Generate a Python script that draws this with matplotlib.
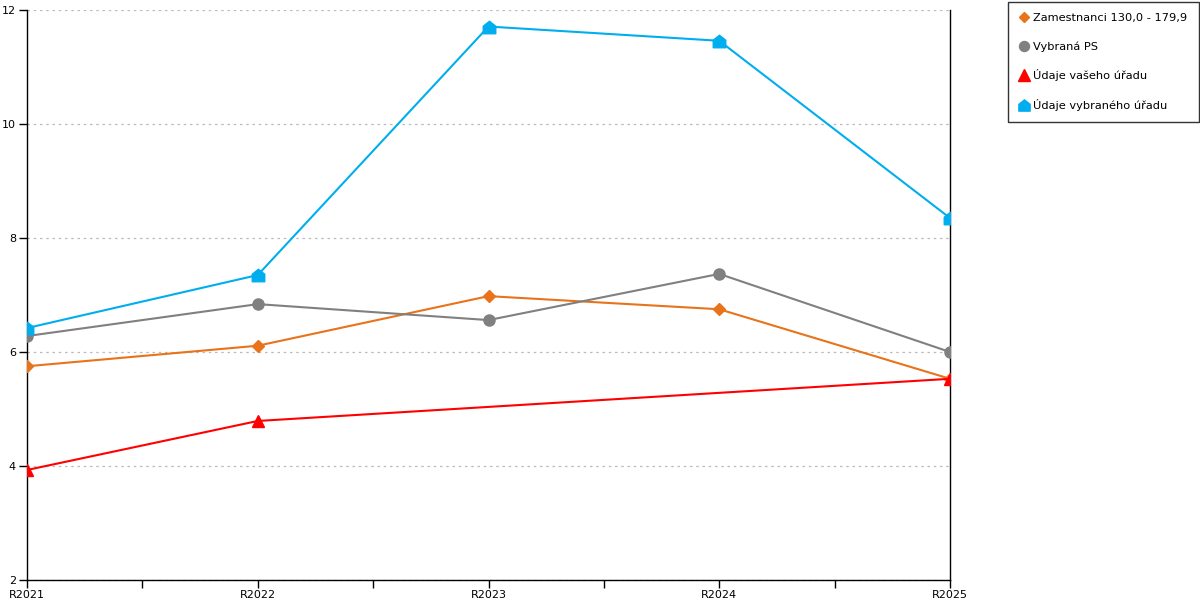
import matplotlib
matplotlib.use("Agg")
import matplotlib.pyplot as plt
from matplotlib.path import Path
import numpy as np

categories = ["R2021", "R2022", "R2023", "R2024", "R2025"]
zamestnanci = [5.75, 6.11, 6.98, 6.75, 5.53]
vybrana_ps = [6.28, 6.84, 6.56, 7.37, 6.00]
vas_urad_x = ["R2021", "R2022", "R2025"]
vas_urad = [3.93, 4.79, 5.53]
vybrany_urad = [6.42, 7.35, 11.71, 11.46, 8.35]

labels = ["Zamestnanci 130,0 - 179,9", "Vybraná PS", "Údaje vašeho úřadu", "Údaje vybraného úřadu"]
colors = ["#E8731A", "#808080", "#FF0000", "#00AEEF"]

house = Path([(-1, -1), (1, -1), (1, 0.2), (0, 1), (-1, 0.2), (-1, -1)],
             [Path.MOVETO, Path.LINETO, Path.LINETO, Path.LINETO, Path.LINETO, Path.CLOSEPOLY])

fig = plt.figure(figsize=(12, 6), dpi=100)
ax = fig.add_axes([27/1200, 20/600, (950-27)/1200, 570/600])

xi = np.arange(len(categories))
ax.plot(xi, zamestnanci, color=colors[0], lw=1.5, marker="D", ms=6, label=labels[0], zorder=3)
ax.plot(xi, vybrana_ps, color=colors[1], lw=1.5, marker="o", ms=8, label=labels[1], zorder=3)
vx = [categories.index(c) for c in vas_urad_x]
ax.plot(vx, vas_urad, color=colors[2], lw=1.5, marker="^", ms=9, label=labels[2], zorder=4)
ax.plot(xi, vybrany_urad, color=colors[3], lw=1.5, marker=house, ms=9, label=labels[3], zorder=3)

ax.set_xlim(0, 4)
ax.set_ylim(2, 12)
ax.set_xticks(xi)
ax.set_xticklabels(categories)
ax.set_xticks(np.arange(0.5, 4, 1), minor=True)
ax.set_yticks([2, 4, 6, 8, 10, 12])
ax.tick_params(axis="both", labelsize=8, direction="out", length=6, width=1, colors="black")
ax.tick_params(axis="x", which="minor", length=6, width=1)
ax.tick_params(axis="x", pad=1)
ax.tick_params(axis="y", pad=2)
ax.grid(axis="y", color="#BBBBBB", linestyle=(0, (2, 3)), lw=0.9)
for s in ["left", "bottom", "right"]:
    ax.spines[s].set_color("black")
    ax.spines[s].set_linewidth(1)
ax.spines["top"].set_visible(False)

leg = fig.legend(loc="upper right", bbox_to_anchor=(1199/1200, 1 - 2/600), frameon=True,
                 fontsize=8.2, handlelength=0.8, handletextpad=0.45, labelspacing=1.55,
                 borderpad=1.0, borderaxespad=0, fancybox=False, markerscale=0.9)
leg.get_frame().set_edgecolor("black")
leg.get_frame().set_linewidth(1)
for h in leg.legend_handles:
    h.set_linestyle("none")

fig.savefig("out.png", dpi=100)
